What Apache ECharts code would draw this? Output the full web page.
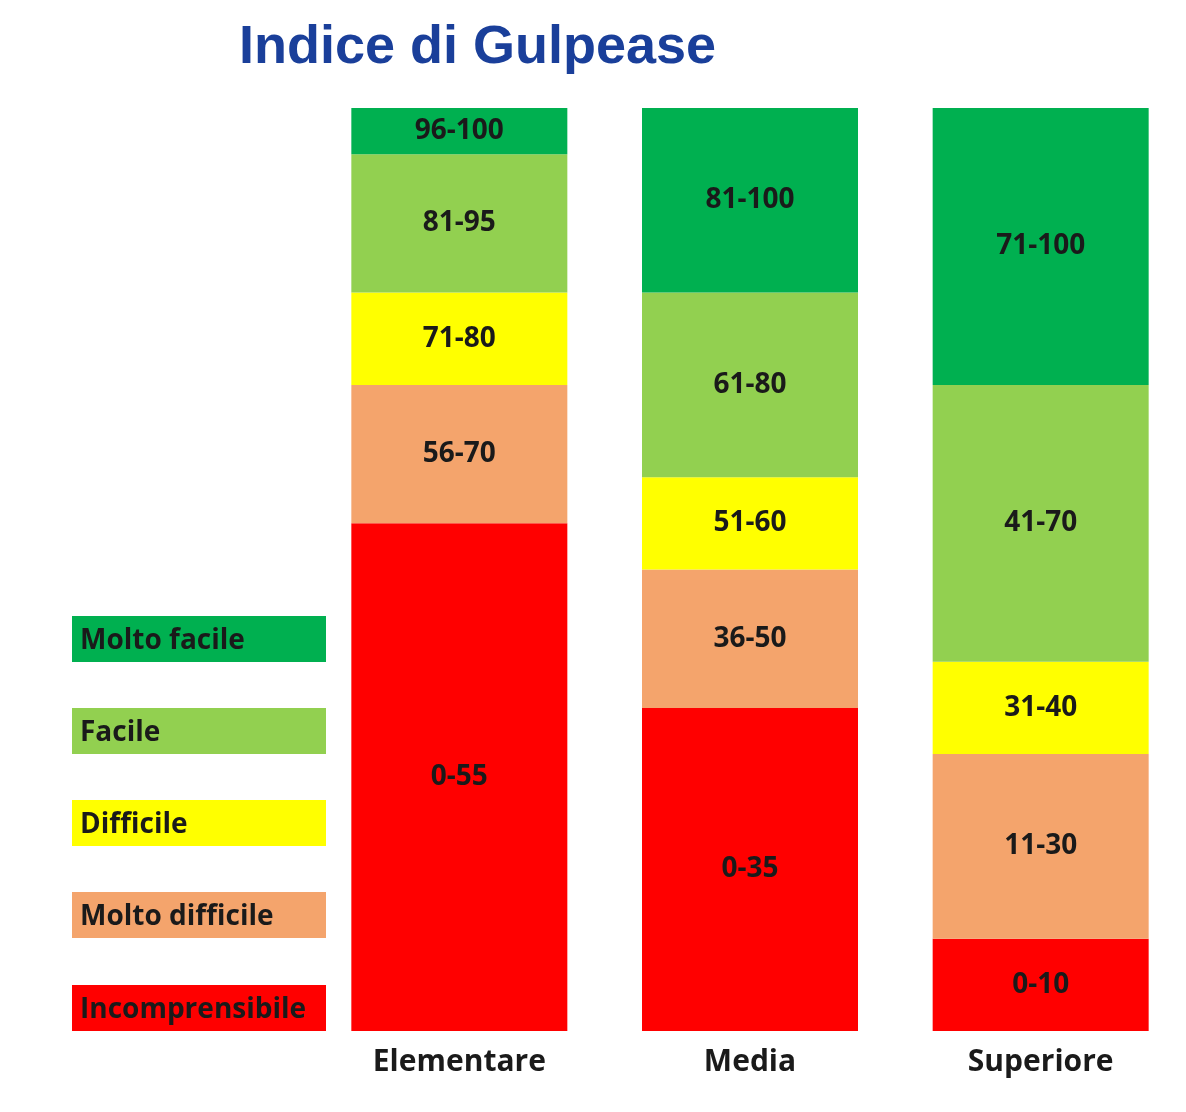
<!DOCTYPE html>
<html><head><meta charset="utf-8">
<script src="https://cdn.jsdelivr.net/npm/echarts@6/dist/echarts.min.js"></script>
<style>html,body{margin:0;padding:0;background:#fff}#c{width:1186px;height:1112px}</style>
</head><body><div id="c"></div>
<script>
const categories = ['Elementare', 'Media', 'Superiore'];
const levels = ['Incomprensibile', 'Molto difficile', 'Difficile', 'Facile', 'Molto facile'];
const colors = ['#ff0000', '#f4a46c', '#ffff00', '#92d050', '#00b050'];
const incomprensibile = [55, 35, 10];
const moltoDifficile = [15, 15, 20];
const difficile = [10, 10, 10];
const facile = [15, 20, 30];
const moltoFacile = [5, 20, 30];
const labIncomprensibile = ['0-55', '0-35', '0-10'];
const labMoltoDifficile = ['56-70', '36-50', '11-30'];
const labDifficile = ['71-80', '51-60', '31-40'];
const labFacile = ['81-95', '61-80', '41-70'];
const labMoltoFacile = ['96-100', '81-100', '71-100'];

const vals = [incomprensibile, moltoDifficile, difficile, facile, moltoFacile];
const labs = [labIncomprensibile, labMoltoDifficile, labDifficile, labFacile, labMoltoFacile];

const series = levels.map((name, i) => ({
  name, type: 'bar', stack: 'g', barWidth: 216, data: vals[i],
  itemStyle: {color: colors[i]},
  label: {show: true, position: 'inside', color: '#1a1a1a', fontWeight: 'bold', fontSize: 28,
    fontFamily: 'Open Sans', formatter: p => labs[i][p.dataIndex]}
}));

const graphic = [];
const boxTops = [985, 892, 800, 708, 616];
levels.forEach((name, i) => {
  graphic.push({type: 'rect', shape: {x: 72, y: boxTops[i], width: 254, height: 46}, style: {fill: colors[i]}});
  graphic.push({type: 'text', x: 80, y: boxTops[i] + 25, style: {text: name, fill: '#1a1a1a',
    font: 'bold 28px "Open Sans"', textVerticalAlign: 'middle'}});
});

const chart = echarts.init(document.getElementById('c'));
chart.setOption({
  animation: false,
  title: {text: 'Indice di Gulpease', left: 234, top: 16,
    textStyle: {color: '#1a3f9a', fontSize: 54, fontWeight: 'bold', fontFamily: 'Liberation Sans'}},
  grid: {left: 314, top: 108, right: -12, height: 923},
  xAxis: {type: 'category', data: categories, axisLine: {show: false}, axisTick: {show: false},
    axisLabel: {color: '#1a1a1a', fontWeight: 'bold', fontSize: 30, fontFamily: 'Open Sans', margin: 16}},
  yAxis: {type: 'value', min: 0, max: 100, show: false},
  series, graphic
});
</script></body></html>
